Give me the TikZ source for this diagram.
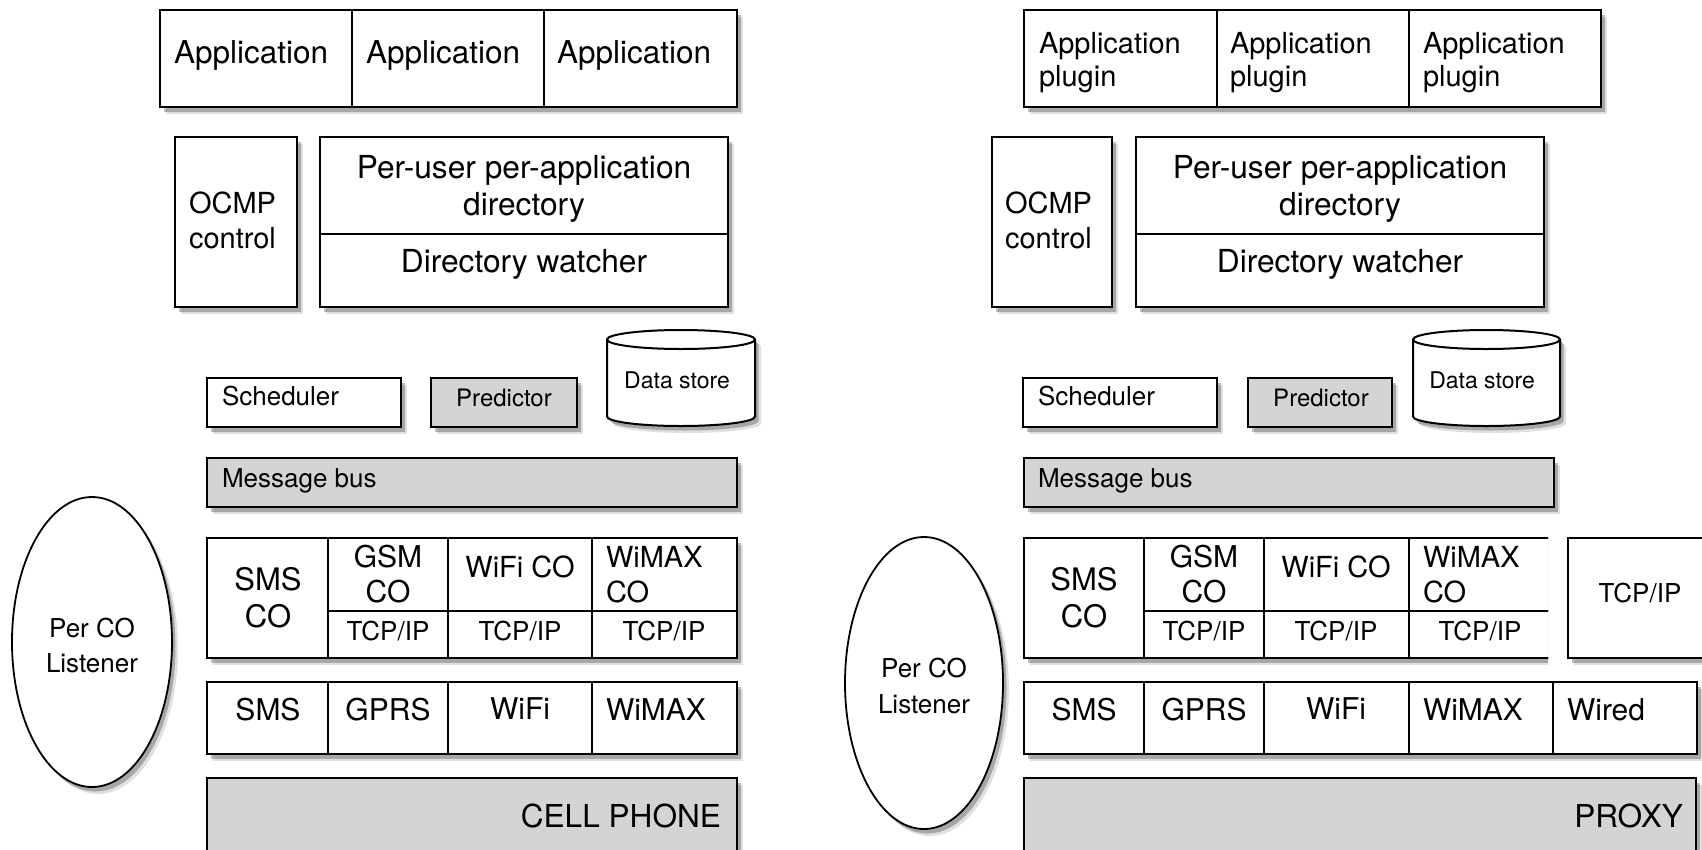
\documentclass[tikz,border=0pt]{standalone}
\usepackage{fontspec}
\setmainfont{TeX Gyre Heros}
\usetikzlibrary{shadows,shapes.geometric}
\definecolor{boxgray}{RGB}{212,212,212}
\newcommand\fs[1]{\fontsize{#1}{#1}\selectfont}
\tikzset{
  shad/.style={drop shadow={shadow xshift=6pt, shadow yshift=-7pt, opacity=0.12, fill=black},
               drop shadow={shadow xshift=3.5pt, shadow yshift=-4.5pt, opacity=0.25, fill=black}},
  frame/.style={draw, line width=2.4pt, fill=white, inner sep=0pt, outer sep=0pt, anchor=north west, shad},
  gframe/.style={frame, fill=boxgray},
  cell/.style={draw, line width=2.4pt, inner sep=0pt, outer sep=0pt, anchor=north west},
  lt/.style={inner sep=0pt, outer sep=0pt, anchor=base west},
  ct/.style={inner sep=0pt, outer sep=0pt, anchor=base},
  rt/.style={inner sep=0pt, outer sep=0pt, anchor=base east},
  listener/.style={draw, line width=1.8pt, ellipse, fill=white, inner sep=0pt, shad},
}
\begin{document}
\begin{tikzpicture}[x=1pt,y=1pt]
\useasboundingbox (0,0) rectangle (1702,-849);
\clip (0,0) rectangle (1702,-849);
\fill[white] (0,0) rectangle (1702,-849);

% ================= LEFT: CELL PHONE =================
% application row
\node[frame, minimum width=577, minimum height=97] (appL) at (160,-10) {};
\node[cell, minimum width=192, minimum height=97] (appL1) at (160,-10) {};
\node[cell, minimum width=192, minimum height=97] (appL2) at (352,-10) {};
\node[cell, minimum width=193, minimum height=97] (appL3) at (544,-10) {};
\node[lt, font=\fs{31.5}] (tappL1) at (174,-63) {Application};
\node[lt, font=\fs{31.5}] (tappL2) at (366,-63) {Application};
\node[lt, font=\fs{31.5}] (tappL3) at (557,-63) {Application};

% OCMP control
\node[frame, minimum width=122, minimum height=170] (ocmpL) at (175,-137) {};
\node[lt, font=\fs{29}] (tocmpL1) at (189,-213) {OCMP};
\node[lt, font=\fs{29}] (tocmpL2) at (189,-248) {control};

% directory
\node[frame, minimum width=408, minimum height=170] (dirL) at (320,-137) {};
\node[cell, minimum width=408, minimum height=97] (dirLa) at (320,-137) {};
\node[cell, minimum width=408, minimum height=73] (dirLb) at (320,-234) {};
\node[ct, font=\fs{31.7}] (tdirL1) at (524,-178) {Per-user per-application};
\node[ct, font=\fs{31.7}] (tdirL2) at (524,-215) {directory};
\node[ct, font=\fs{31.7}] (tdirL3) at (524,-272) {Directory watcher};

% scheduler, predictor, data store
\node[frame, minimum width=194, minimum height=49] (schL) at (207,-378) {};
\node[lt, font=\fs{26}] (tschL) at (222,-405) {Scheduler};
\node[gframe, minimum width=146, minimum height=49] (preL) at (431,-378) {};
\node[ct, font=\fs{24}] (tpreL) at (504,-406) {Predictor};
\path[draw, line width=2pt, fill=white, shad]
  (607,-339.5) -- (607,-416.5) arc[start angle=180, end angle=360, x radius=74, y radius=9.5]
  -- (755,-339.5) arc[start angle=0, end angle=180, x radius=74, y radius=9.5] -- cycle;
\draw[line width=2pt] (607,-339.5) arc[start angle=180, end angle=360, x radius=74, y radius=9.5];
\node[ct, font=\fs{23}] (tdsL) at (677,-388) {Data store};

% message bus
\node[gframe, minimum width=530, minimum height=49] (busL) at (207,-458) {};
\node[lt, font=\fs{26}] (tbusL) at (222,-487) {Message bus};

% listener
\node[listener, minimum width=160, minimum height=290] (lisL) at (92,-642) {};
\node[ct, font=\fs{26}] (tlisL1) at (92,-637) {Per CO};
\node[ct, font=\fs{26}] (tlisL2) at (92,-672) {Listener};

% CO row
\node[frame, minimum width=530, minimum height=120] (coL) at (207,-538) {};
\node[cell, minimum width=121, minimum height=120] (coL1) at (207,-538) {};
\node[cell, minimum width=120, minimum height=73] (coL2) at (328,-538) {};
\node[cell, minimum width=144, minimum height=73] (coL3) at (448,-538) {};
\node[cell, minimum width=145, minimum height=73] (coL4) at (592,-538) {};
\node[cell, minimum width=120, minimum height=47] (tcpL2) at (328,-611) {};
\node[cell, minimum width=144, minimum height=47] (tcpL3) at (448,-611) {};
\node[cell, minimum width=145, minimum height=47] (tcpL4) at (592,-611) {};
\node[ct, font=\fs{31}] (tcoL1a) at (268,-590) {SMS};
\node[ct, font=\fs{31}] (tcoL1b) at (268,-627) {CO};
\node[ct, font=\fs{30}] (tcoL2a) at (388,-567) {GSM};
\node[ct, font=\fs{30}] (tcoL2b) at (388,-602) {CO};
\node[ct, font=\fs{29}] (tcoL3) at (520,-577) {WiFi CO};
\node[lt, font=\fs{29}] (tcoL4a) at (606,-567) {WiMAX};
\node[lt, font=\fs{29}] (tcoL4b) at (606,-602) {CO};
\node[ct, font=\fs{26}] (ttcpL2) at (388,-640) {TCP/IP};
\node[ct, font=\fs{26}] (ttcpL3) at (520,-640) {TCP/IP};
\node[ct, font=\fs{26}] (ttcpL4) at (664,-640) {TCP/IP};

% link row
\node[frame, minimum width=530, minimum height=72] (lkL) at (207,-682) {};
\node[cell, minimum width=121, minimum height=72] (lkL1) at (207,-682) {};
\node[cell, minimum width=120, minimum height=72] (lkL2) at (328,-682) {};
\node[cell, minimum width=144, minimum height=72] (lkL3) at (448,-682) {};
\node[cell, minimum width=145, minimum height=72] (lkL4) at (592,-682) {};
\node[ct, font=\fs{30}] (tlkL1) at (268,-720) {SMS};
\node[ct, font=\fs{30}] (tlkL2) at (388,-720) {GPRS};
\node[ct, font=\fs{30}] (tlkL3) at (520,-719) {WiFi};
\node[lt, font=\fs{30}] (tlkL4) at (606,-720) {WiMAX};

% device
\node[gframe, minimum width=530, minimum height=90] (devL) at (207,-778) {};
\node[rt, font=\fs{31.6}] (tdevL) at (721,-827) {CELL PHONE};

% ================= RIGHT: PROXY =================
\node[frame, minimum width=577, minimum height=97] (appR) at (1024,-10) {};
\node[cell, minimum width=193, minimum height=97] (appR1) at (1024,-10) {};
\node[cell, minimum width=192, minimum height=97] (appR2) at (1217,-10) {};
\node[cell, minimum width=192, minimum height=97] (appR3) at (1409,-10) {};
\node[lt, font=\fs{29}] (tappR1a) at (1039,-53) {Application};
\node[lt, font=\fs{29}] (tappR1b) at (1039,-86) {plugin};
\node[lt, font=\fs{29}] (tappR2a) at (1230,-53) {Application};
\node[lt, font=\fs{29}] (tappR2b) at (1230,-86) {plugin};
\node[lt, font=\fs{29}] (tappR3a) at (1423,-53) {Application};
\node[lt, font=\fs{29}] (tappR3b) at (1423,-86) {plugin};

\node[frame, minimum width=120, minimum height=170] (ocmpR) at (992,-137) {};
\node[lt, font=\fs{29}] (tocmpR1) at (1005,-213) {OCMP};
\node[lt, font=\fs{29}] (tocmpR2) at (1005,-248) {control};

\node[frame, minimum width=408, minimum height=170] (dirR) at (1136,-137) {};
\node[cell, minimum width=408, minimum height=97] (dirRa) at (1136,-137) {};
\node[cell, minimum width=408, minimum height=73] (dirRb) at (1136,-234) {};
\node[ct, font=\fs{31.7}] (tdirR1) at (1340,-178) {Per-user per-application};
\node[ct, font=\fs{31.7}] (tdirR2) at (1340,-215) {directory};
\node[ct, font=\fs{31.7}] (tdirR3) at (1340,-272) {Directory watcher};

\node[frame, minimum width=194, minimum height=49] (schR) at (1023,-378) {};
\node[lt, font=\fs{26}] (tschR) at (1038,-405) {Scheduler};
\node[gframe, minimum width=144, minimum height=49] (preR) at (1248,-378) {};
\node[ct, font=\fs{24}] (tpreR) at (1321,-406) {Predictor};
\path[draw, line width=2pt, fill=white, shad]
  (1413,-339.5) -- (1413,-416.5) arc[start angle=180, end angle=360, x radius=73.5, y radius=9.5]
  -- (1560,-339.5) arc[start angle=0, end angle=180, x radius=73.5, y radius=9.5] -- cycle;
\draw[line width=2pt] (1413,-339.5) arc[start angle=180, end angle=360, x radius=73.5, y radius=9.5];
\node[ct, font=\fs{23}] (tdsR) at (1482,-388) {Data store};

\node[gframe, minimum width=530, minimum height=49] (busR) at (1024,-458) {};
\node[lt, font=\fs{26}] (tbusR) at (1038,-487) {Message bus};

\node[listener, minimum width=158, minimum height=292] (lisR) at (924,-683) {};
\node[ct, font=\fs{26}] (tlisR1) at (924,-677) {Per CO};
\node[ct, font=\fs{26}] (tlisR2) at (924,-713) {Listener};

\begin{scope}
\clip (1000,-500) rectangle (1548,-700);
\node[frame, minimum width=560, minimum height=120] (coR) at (1024,-538) {};
\node[cell, minimum width=120, minimum height=120] (coR1) at (1024,-538) {};
\node[cell, minimum width=120, minimum height=73] (coR2) at (1144,-538) {};
\node[cell, minimum width=145, minimum height=73] (coR3) at (1264,-538) {};
\node[cell, minimum width=160, minimum height=73] (coR4) at (1409,-538) {};
\node[cell, minimum width=120, minimum height=47] (tcpR2) at (1144,-611) {};
\node[cell, minimum width=145, minimum height=47] (tcpR3) at (1264,-611) {};
\node[cell, minimum width=160, minimum height=47] (tcpR4) at (1409,-611) {};
\end{scope}
\node[ct, font=\fs{31}] (tcoR1a) at (1084,-590) {SMS};
\node[ct, font=\fs{31}] (tcoR1b) at (1084,-627) {CO};
\node[ct, font=\fs{30}] (tcoR2a) at (1204,-567) {GSM};
\node[ct, font=\fs{30}] (tcoR2b) at (1204,-602) {CO};
\node[ct, font=\fs{29}] (tcoR3) at (1336,-577) {WiFi CO};
\node[lt, font=\fs{29}] (tcoR4a) at (1423,-567) {WiMAX};
\node[lt, font=\fs{29}] (tcoR4b) at (1423,-602) {CO};
\node[ct, font=\fs{26}] (ttcpR2) at (1204,-640) {TCP/IP};
\node[ct, font=\fs{26}] (ttcpR3) at (1336,-640) {TCP/IP};
\node[ct, font=\fs{26}] (ttcpR4) at (1480,-640) {TCP/IP};

\node[frame, minimum width=160, minimum height=120] (tcpR) at (1568,-538) {};
\node[ct, font=\fs{26}] (ttcpR) at (1640,-602) {TCP/IP};

\node[frame, minimum width=673, minimum height=72] (lkR) at (1024,-682) {};
\node[cell, minimum width=120, minimum height=72] (lkR1) at (1024,-682) {};
\node[cell, minimum width=120, minimum height=72] (lkR2) at (1144,-682) {};
\node[cell, minimum width=145, minimum height=72] (lkR3) at (1264,-682) {};
\node[cell, minimum width=144, minimum height=72] (lkR4) at (1409,-682) {};
\node[cell, minimum width=144, minimum height=72] (lkR5) at (1553,-682) {};
\node[ct, font=\fs{30}] (tlkR1) at (1084,-720) {SMS};
\node[ct, font=\fs{30}] (tlkR2) at (1204,-720) {GPRS};
\node[ct, font=\fs{30}] (tlkR3) at (1336,-719) {WiFi};
\node[lt, font=\fs{30}] (tlkR4) at (1423,-720) {WiMAX};
\node[lt, font=\fs{30}] (tlkR5) at (1567,-720) {Wired};

\node[gframe, minimum width=672, minimum height=90] (devR) at (1024,-778) {};
\node[rt, font=\fs{31.6}] (tdevR) at (1683,-827) {PROXY};
\end{tikzpicture}
\end{document}
